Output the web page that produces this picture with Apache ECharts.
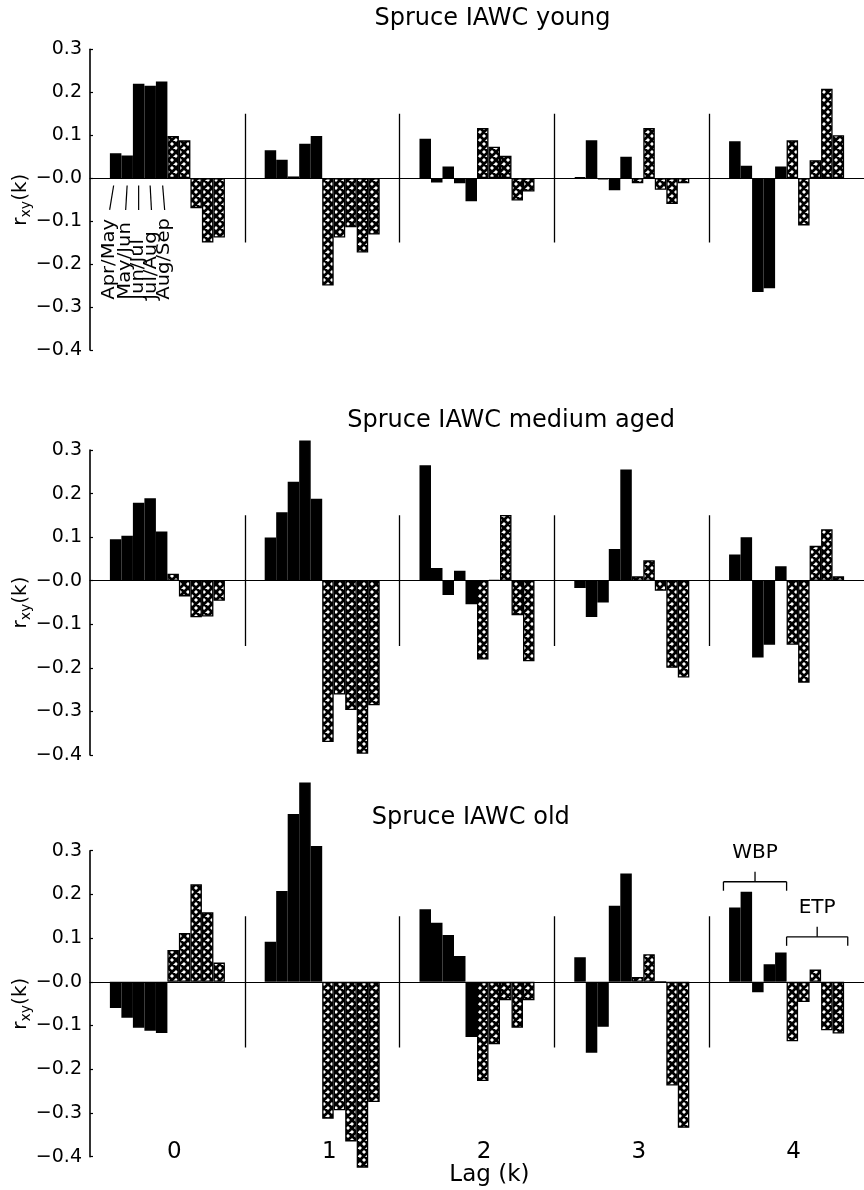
<!DOCTYPE html>
<html><head><meta charset="utf-8">
<script src="https://cdn.jsdelivr.net/npm/echarts@6/dist/echarts.min.js"></script>
<style>html,body{margin:0;padding:0;background:#fff}#c{width:864px;height:1190px}</style>
</head><body><div id="c"></div>
<script>
// ---------------- data ----------------
const lagLabels = ['0', '1', '2', '3', '4'];
const monthPairs = ['Apr/May', 'May/Jun', 'Jun/Jul', 'Jul/Aug', 'Aug/Sep'];
const panelTitles = ['Spruce IAWC young', 'Spruce IAWC medium aged', 'Spruce IAWC old'];
const groupNames = ['WBP', 'ETP'];
const yTicks = { min: -0.4, max: 0.3, step: 0.1 };
const separatorLags = [1, 2, 3, 4];
const separatorHalf = 0.15;

// rows: lag 0..4, columns: Apr/May .. Aug/Sep
const youngWBP = [
  [0.058, 0.053, 0.220, 0.215, 0.225],
  [0.065, 0.043, 0.004, 0.080, 0.098],
  [0.092, -0.010, 0.027, -0.012, -0.054],
  [0.002, 0.088, -0.003, -0.028, 0.050],
  [0.086, 0.029, -0.265, -0.256, 0.027]
];
const youngETP = [
  [0.098, 0.088, -0.070, -0.150, -0.138],
  [-0.250, -0.138, -0.114, -0.173, -0.131],
  [0.117, 0.073, 0.052, -0.052, -0.031],
  [-0.012, 0.117, -0.027, -0.060, -0.012],
  [0.088, -0.110, 0.042, 0.208, 0.100]
];
const mediumWBP = [
  [0.095, 0.103, 0.179, 0.189, 0.113],
  [0.099, 0.157, 0.227, 0.322, 0.188],
  [0.265, 0.029, -0.033, 0.023, -0.054],
  [-0.017, -0.083, -0.050, 0.073, 0.255],
  [0.060, 0.100, -0.176, -0.147, 0.033]
];
const mediumETP = [
  [0.016, -0.036, -0.084, -0.082, -0.046],
  [-0.370, -0.261, -0.297, -0.397, -0.286],
  [-0.181, 0.002, 0.151, -0.079, -0.185],
  [0.010, 0.047, -0.023, -0.200, -0.222],
  [-0.147, -0.234, 0.080, 0.118, 0.010]
];
const oldWBP = [
  [-0.060, -0.082, -0.105, -0.112, -0.117],
  [0.092, 0.208, 0.384, 0.456, 0.311],
  [0.166, 0.135, 0.107, 0.059, -0.126],
  [0.056, -0.162, -0.103, 0.174, 0.248],
  [0.170, 0.206, -0.024, 0.040, 0.067]
];
const oldETP = [
  [0.073, 0.112, 0.223, 0.159, 0.044],
  [-0.313, -0.294, -0.365, -0.425, -0.275],
  [-0.227, -0.143, -0.042, -0.105, -0.042],
  [0.011, 0.063, 0.000, -0.237, -0.334],
  [-0.136, -0.046, 0.028, -0.111, -0.118]
];

// ---------------- layout / style ----------------
const FONT = 'DejaVu Sans';
const WBPs = [youngWBP, mediumWBP, oldWBP];
const ETPs = [youngETP, mediumETP, oldETP];
const grids = [
  { left: 90, top: 49.3, width: 778, height: 300.7 },
  { left: 90, top: 450, width: 778, height: 305 },
  { left: 90, top: 850.7, width: 778, height: 306 }
];
const CAT_GAP = 0.257;
const titleAnchor = [[2.60, 0.37], [2.72, 0.368], [2.46, 0.375]];

function makeHatch() {
  const s = 8, c = document.createElement('canvas');
  c.width = s; c.height = s;
  const g = c.getContext('2d');
  g.fillStyle = '#fff'; g.fillRect(0, 0, s, s);
  g.strokeStyle = '#000'; g.lineWidth = 2.8; g.beginPath();
  for (const o of [-s, 0, s]) {
    g.moveTo(o, 0); g.lineTo(o + s, s);
    g.moveTo(o + s, 0); g.lineTo(o, s);
  }
  g.stroke();
  return c;
}
const hatch = makeHatch();

const tickFmt = v => (v < 0.0001 ? '\u2212' : '') + Math.abs(v).toFixed(1);

const xAxes = [], yAxes = [], series = [];
grids.forEach((g, p) => {
  xAxes.push({
    gridIndex: p, type: 'category', data: lagLabels, position: 'bottom',
    axisLine: { onZero: true, lineStyle: { color: '#000', width: 1.2 } },
    axisTick: { show: false }, axisLabel: { show: false }, splitLine: { show: false }
  });
  xAxes.push({ gridIndex: p, type: 'value', min: 0, max: 5, show: false, position: 'top' });
  yAxes.push({
    gridIndex: p, type: 'value', min: yTicks.min, max: yTicks.max, interval: yTicks.step,
    axisLine: { show: true, onZero: false, lineStyle: { color: '#000', width: 1.6 } },
    axisTick: { show: true, inside: true, length: 3, lineStyle: { color: '#000', width: 1.2 } },
    splitLine: { show: false },
    axisLabel: { color: '#000', fontSize: 19, fontFamily: FONT, margin: 8, formatter: tickFmt }
  });
});
// bottom lag labels for last panel
xAxes.push({
  gridIndex: 2, type: 'category', data: lagLabels, position: 'bottom',
  axisLine: { show: false, onZero: false }, axisTick: { show: false },
  axisLabel: { color: '#000', fontSize: 23, fontFamily: FONT, margin: -16, padding: [0, 0, 0, 14] }
});

const pairNames = monthPairs.map(m => 'WBP ' + m).concat(monthPairs.map(m => 'ETP ' + m));
grids.forEach((g, p) => {
  for (let i = 0; i < 10; i++) {
    const isW = i < 5;
    series.push({
      type: 'bar', name: pairNames[i], xAxisIndex: p * 2, yAxisIndex: p,
      data: lagLabels.map((_, l) => isW ? WBPs[p][l][i] : ETPs[p][l][i - 5]),
      barGap: '0%', barCategoryGap: (CAT_GAP * 100) + '%', clip: false,
      itemStyle: isW ? { color: '#000', borderColor: '#000', borderWidth: 1.6 }
                     : { color: { image: hatch, repeat: 'repeat' }, borderColor: '#000', borderWidth: 1.3 },
      emphasis: { disabled: true }, silent: true, z: 2
    });
  }
});
const sepSeriesIdx = [];
grids.forEach((g, p) => {
  sepSeriesIdx.push(series.length);
  series.push({
    type: 'lines', coordinateSystem: 'cartesian2d', xAxisIndex: p * 2 + 1, yAxisIndex: p,
    data: separatorLags.map(s => ({ coords: [[s, -separatorHalf], [s, separatorHalf]] })),
    lineStyle: { color: '#000', width: 1.3, opacity: 1 }, silent: true, z: 3
  });
});

const chart = echarts.init(document.getElementById('c'), null, { renderer: 'canvas' });
chart.setOption({
  animation: false, backgroundColor: '#fff',
  grid: grids.map(g => Object.assign({ containLabel: false }, g)),
  xAxis: xAxes, yAxis: yAxes, series: series
});

// ---------------- annotations ----------------
const px = (p, x, y) => chart.convertToPixel({ seriesIndex: sepSeriesIdx[p] }, [x, y]);
const measure = (() => { const c = document.createElement('canvas').getContext('2d');
  return (t, fs) => { c.font = fs + 'px "' + FONT + '"'; return c.measureText(t).width; }; })();
const txt = (text, x, y, fs, extra) => ({
  type: 'text', x, y, silent: true,
  style: Object.assign({ text, fontSize: fs, fontFamily: FONT, fill: '#000',
    align: 'center', verticalAlign: 'middle', textAlign: 'center', textVerticalAlign: 'middle' }, extra || {})
});
const line = (x1, y1, x2, y2, w) => ({ type: 'line', silent: true,
  shape: { x1, y1, x2, y2 }, style: { stroke: '#000', lineWidth: w || 1.2 } });

const G = [];
// titles
titleAnchor.forEach((a, p) => { const q = px(p, a[0], a[1]); G.push(txt(panelTitles[p], q[0], q[1], 24)); });
// y-axis names r_xy(k)
grids.forEach((g, p) => {
  const c = px(p, 0, -0.05);
  const w1 = measure('r', 20), w2 = measure('xy', 14), w3 = measure('(k)', 20);
  const L = w1 + w2 + w3, s0 = -L / 2;
  const st = { align: 'left', textAlign: 'left' };
  G.push({ type: 'group', x: 21, y: c[1], rotation: Math.PI / 2, silent: true, children: [
    txt('r', s0, 0, 20, st), txt('xy', s0 + w1, 5, 14, st), txt('(k)', s0 + w1 + w2, 0, 20, st)
  ] });
});
// month pair labels (panel 1, lag 0)
const bw = (1 - CAT_GAP) / 10;
const topOff = [-2, 0, 0, 0, 1], botOff = [-6, -1.5, 0, 1.3, 3];
monthPairs.forEach((m, i) => {
  const bc = 0.5 + (i - 4.5) * bw;
  const t = px(0, bc, -0.017), b = px(0, bc, -0.074), lb = px(0, bc, -0.283);
  G.push(line(t[0] + topOff[i], t[1], b[0] + botOff[i], b[1], 1.2));
  const e = txt(m, lb[0] + botOff[i], lb[1], 17, { align: 'left', textAlign: 'left' });
  e.rotation = Math.PI / 2; e.scaleX = 1.15;
  G.push(e);
});
// WBP / ETP brackets (panel 3, lag 4)
function bracket(x0, x1, yv, tyv, label) {
  const a = px(2, x0, yv), b = px(2, x1, yv), t = px(2, (x0 + x1) / 2, tyv);
  const mx = (a[0] + b[0]) / 2;
  G.push(line(a[0], a[1], b[0], b[1], 1.3));
  G.push(line(a[0], a[1], a[0], a[1] + 9, 1.3));
  G.push(line(b[0], b[1], b[0], b[1] + 9, 1.3));
  G.push(line(mx, a[1], mx, a[1] - 10, 1.3));
  G.push(txt(label, t[0], t[1], 20));
}
bracket(4.092, 4.5, 0.229, 0.296, groupNames[0]);
bracket(4.5, 4.895, 0.103, 0.170, groupNames[1]);
// x-axis title
const lq = px(2, 2.58, -0.442);
G.push(txt('Lag (k)', lq[0], lq[1], 23));

chart.setOption({ graphic: G });
</script>
</body></html>
